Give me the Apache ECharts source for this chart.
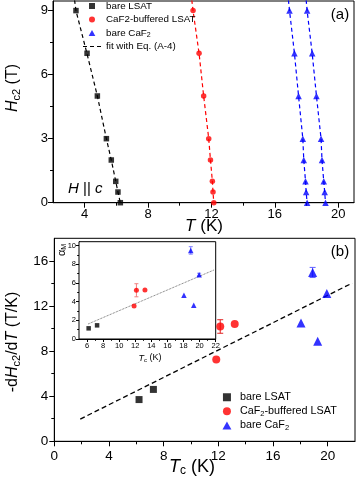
<!DOCTYPE html>
<html>
<head>
<meta charset="utf-8">
<script src="https://cdn.jsdelivr.net/npm/echarts@6.0.0/dist/echarts.min.js"></script>
<style>
  html, body { margin: 0; padding: 0; background: #fff; }
  #chart { width: 357px; height: 477px; }
</style>
</head>
<body>
<div id="chart"></div>
<script>
// ---- panel (a): Hc2 vs T ----
const hLevels = [9, 7, 5, 3, 2, 1, 0.5, 0]
const tLSAT = [3.45, 4.15, 4.8, 5.37, 5.68, 5.96, 6.1, 6.25]
const tBuf = [10.84, 11.22, 11.51, 11.83, 11.94, 12.06, 12.1, 12.15]
const tCaF2a = [16.93, 17.24, 17.5, 17.77, 17.83, 17.94, 17.98, 18.04]
const tCaF2b = [18.04, 18.36, 18.63, 18.92, 18.98, 19.09, 19.15, 19.2]
// fit with Eq. (A-4)
const fitH = [9.5, 9, 7, 5, 3, 2, 1, 0.5, 0]
const fitLSAT = [3.36, 3.45, 4.14, 4.8, 5.37, 5.68, 5.96, 6.1, 6.25]
const fitBuf = [10.76, 10.84, 11.22, 11.51, 11.83, 11.94, 12.06, 12.1, 12.15]
const fitCaF2a = [16.86, 16.93, 17.24, 17.5, 17.77, 17.83, 17.94, 17.98, 18.04]
const fitCaF2b = [17.98, 18.04, 18.36, 18.63, 18.92, 18.98, 19.09, 19.15, 19.2]

// ---- panel (b): -dHc2/dT vs Tc ----
const tcLSAT = [6.2, 7.25]
const slopeLSAT = [3.7, 4.6]
const tcBuf = [11.85, 12.14, 13.2]
const slopeBuf = [7.26, 10.18, 10.4]
const errBuf = [0, 0.6, 0]
const tcCaF2 = [18.05, 18.9, 19.27, 19.94]
const slopeCaF2 = [10.5, 14.97, 8.88, 13.1]
const errCaF2 = [0, 0.45, 0, 0]
const lineTc = [1.9, 21.8]
const lineSlope = [1.97, 14.03]

// ---- inset: alpha_M vs Tc ----
const alphaLSAT = [1.14, 1.46]
const alphaBuf = [3.54, 5.21, 5.24]
const alphaErrBuf = [0, 0.7, 0]
const alphaCaF2 = [4.68, 9.47, 3.6, 6.88]
const alphaErrCaF2 = [0, 0.4, 0, 0.15]
const insetLineTc = [6.12, 21.85]
const insetLineAlpha = [1.6, 7.4]

// tick labels
const ticksAx = [4, 8, 12, 16, 20], minorAx = [6, 10, 14, 18]
const ticksAy = [0, 3, 6, 9], minorAy = [1.5, 4.5, 7.5]
const ticksBx = [0, 4, 8, 12, 16, 20], minorBx = [2, 6, 10, 14, 18]
const ticksBy = [0, 4, 8, 12, 16], minorBy = [2, 6, 10, 14]
const ticksIx = [6, 8, 10, 12, 14, 16, 18, 20, 22], minorIx = [7, 9, 11, 13, 15, 17, 19, 21]
const ticksIy = [0, 2, 4, 6, 8, 10], minorIy = [1, 3, 5, 7, 9]

const FONT = 'Liberation Sans'
const BLACK = '#000', RED = '#ff0000', BLUE = '#0000ff'
// legend icons (paths keep their aspect ratio)
const ICON_SQUARE = 'path://M0,0L10,0L10,10L0,10Z'
const ICON_TRI = 'path://M5,0L10,9L0,9Z'
const ICON_DASH = 'path://M0,0H4V1H0Z M7,0H11V1H7Z M14,0H18V1H14Z'

function zip(xs, ys) {
	return xs.map((x, i) => [x, ys[i]])
}

// main axis + a second overlapping axis that only draws the short minor ticks
function axisPair(pos, grid, min, max, major, minor, fs, margin, len) {
	const main = {
		type: 'value', gridIndex: grid, position: pos, min: min, max: max,
		axisLine: { show: true, onZero: false, lineStyle: { color: BLACK, width: 1 } },
		axisTick: { show: true, length: len, customValues: major, lineStyle: { color: BLACK } },
		axisLabel: { customValues: major, fontSize: fs, margin: margin, color: BLACK, fontFamily: FONT },
		splitLine: { show: false }
	}
	const sub = {
		type: 'value', gridIndex: grid, position: pos, min: min, max: max,
		axisLine: { show: false, onZero: false },
		axisTick: { show: true, length: len * 0.6, customValues: minor, lineStyle: { color: BLACK } },
		axisLabel: { show: false },
		splitLine: { show: false }
	}
	return [main, sub]
}

function scatter(name, xi, data, symbol, size, color) {
	return {
		name: name, type: 'scatter', xAxisIndex: xi, yAxisIndex: xi,
		data: data, symbol: symbol, symbolSize: size,
		itemStyle: { color: color }, z: 4
	}
}

function dashed(name, xi, data, color, width, dash) {
	return {
		name: name, type: 'line', xAxisIndex: xi, yAxisIndex: xi,
		data: data, symbol: 'none', clip: true, silent: true,
		lineStyle: { color: color, width: width, type: dash },
		itemStyle: { color: color }, z: 3
	}
}

function errBars(xi, xs, ys, es, color, cap) {
	return {
		type: 'custom', xAxisIndex: xi, yAxisIndex: xi, z: 3, silent: true,
		encode: { x: 0, y: 1 },
		data: xs.map((x, i) => [x, ys[i], es[i]]).filter(d => d[2] > 0),
		renderItem: function (params, api) {
			const x = api.value(0), y = api.value(1), e = api.value(2)
			const p1 = api.coord([x, y + e])
			const p2 = api.coord([x, y - e])
			const st = { stroke: color, lineWidth: 1 }
			return {
				type: 'group',
				children: [
					{ type: 'line', shape: { x1: p1[0], y1: p1[1], x2: p2[0], y2: p2[1] }, style: st },
					{ type: 'line', shape: { x1: p1[0] - cap, y1: p1[1], x2: p1[0] + cap, y2: p1[1] }, style: st },
					{ type: 'line', shape: { x1: p2[0] - cap, y1: p2[1], x2: p2[0] + cap, y2: p2[1] }, style: st }
				]
			}
		}
	}
}

function label(x, y, text, fs, rot) {
	const rich = {
		i: { fontSize: fs, fontStyle: 'italic', fontFamily: FONT, fill: BLACK },
		s: { fontSize: Math.round(fs * 0.68), fontFamily: FONT, fill: BLACK, padding: [Math.round(fs * 0.45), 0, 0, 0] }
	}
	return {
		type: 'text', x: x, y: y, rotation: rot || 0,
		style: {
			text: text, fontSize: fs, fontFamily: FONT, fill: BLACK,
			align: 'center', verticalAlign: 'middle', rich: rich
		}
	}
}

const ax = axisPair('bottom', 0, 2, 21, ticksAx, minorAx, 13, 5, 5)
const ay = axisPair('left', 0, 0, 9.45, ticksAy, minorAy, 13, 5, 5)
const bx = axisPair('bottom', 1, 0, 22, ticksBx, minorBx, 13.5, 8, 5)
const by = axisPair('left', 1, 0, 18, ticksBy, minorBy, 13.5, 6, 5)
const ix = axisPair('bottom', 2, 5, 22, ticksIx, minorIx, 7.5, 3, 3)
const iy = axisPair('left', 2, 0, 10.4, ticksIy, minorIy, 7.5, 3, 3)

const topNames = {
	'bare LSAT': 'bare LSAT',
	'CaF2-buffered LSAT': 'CaF2-buffered LSAT',
	'bare CaF2': 'bare CaF{s|2}',
	'fit with Eq. (A-4)': 'fit with Eq. (A-4)'
}
const botNames = {
	'bare LSAT': 'bare LSAT',
	'CaF2-buffered LSAT': 'CaF{s|2}-buffered LSAT',
	'bare CaF2': 'bare CaF{s|2}'
}

const option = {
	backgroundColor: '#fff',
	animation: false,
	grid: [
		{ left: 53, top: 1, width: 301, height: 201.7, show: true, borderColor: BLACK, borderWidth: 1, containLabel: false, outerBoundsMode: 'none' },
		{ left: 54.3, top: 238.3, width: 300.7, height: 203, show: true, borderColor: BLACK, borderWidth: 1, containLabel: false, outerBoundsMode: 'none' },
		{ left: 79, top: 241.7, width: 136.7, height: 97.3, show: true, borderColor: BLACK, borderWidth: 1, backgroundColor: '#fff', containLabel: false, outerBoundsMode: 'none', z: 2 }
	],
	xAxis: [ax[0], ax[1], bx[0], bx[1], ix[0], ix[1]],
	yAxis: [ay[0], ay[1], by[0], by[1], iy[0], iy[1]],
	legend: [
		{
			orient: 'vertical', left: 83, top: 0, itemGap: 1.5, padding: 0,
			itemWidth: 18, itemHeight: 6, symbolKeepAspect: true,
			data: [
				{ name: 'bare LSAT', icon: ICON_SQUARE },
				{ name: 'CaF2-buffered LSAT', icon: 'circle' },
				{ name: 'bare CaF2', icon: ICON_TRI },
				{ name: 'fit with Eq. (A-4)', icon: ICON_DASH }
			],
			formatter: n => topNames[n],
			textStyle: {
				fontSize: 9.8, fontFamily: FONT, color: BLACK, lineHeight: 12,
				rich: { s: { fontSize: 7, fontFamily: FONT, color: BLACK, padding: [5, 0, 0, 0] } }
			}
		},
		{
			orient: 'vertical', left: 222.5, top: 391, itemGap: 1.5, padding: 0,
			itemWidth: 16, itemHeight: 8, symbolKeepAspect: true,
			data: [
				{ name: 'bare LSAT', icon: ICON_SQUARE },
				{ name: 'CaF2-buffered LSAT', icon: 'circle' },
				{ name: 'bare CaF2', icon: ICON_TRI }
			],
			formatter: n => botNames[n],
			textStyle: {
				fontSize: 10.8, fontFamily: FONT, color: BLACK, lineHeight: 12.5,
				rich: { s: { fontSize: 7.5, fontFamily: FONT, color: BLACK, padding: [5, 0, 0, 0] } }
			}
		}
	],
	graphic: [
		label(13, 88, '{i|H}{s|c2} (T)', 16, Math.PI / 2),
		label(204, 226, '{i|T} (K)', 17),
		label(340, 15, '(a)', 15),
		{
			type: 'text', x: 68, y: 189,
			style: {
				text: '{i|H} || {i|c}', fontSize: 15, fontFamily: FONT, fill: BLACK,
				verticalAlign: 'middle',
				rich: { i: { fontSize: 15, fontStyle: 'italic', fontFamily: FONT, fill: BLACK } }
			}
		},
		label(13, 342, '-d{i|H}{s|c2}/d{i|T} (T/K)', 16, Math.PI / 2),
		label(192, 467, '{i|T}{s|c} (K)', 18),
		label(340, 252, '(b)', 15),
		label(62, 250, '\u03b1{s|M}', 11, Math.PI / 2),
		label(150, 358, '{i|T}{s|c} (K)', 9)
	],
	series: [
		// (a)
		dashed('fit with Eq. (A-4)', 0, zip(fitLSAT, fitH), BLACK, 1.2, [4, 3]),
		dashed('fit buffered', 0, zip(fitBuf, fitH), RED, 1.2, [4, 3]),
		dashed('fit CaF2 a', 0, zip(fitCaF2a, fitH), BLUE, 1.2, [4, 3]),
		dashed('fit CaF2 b', 0, zip(fitCaF2b, fitH), BLUE, 1.2, [4, 3]),
		scatter('bare LSAT', 0, zip(tLSAT, hLevels), 'rect', 5.5, BLACK),
		scatter('CaF2-buffered LSAT', 0, zip(tBuf, hLevels), 'circle', 5.5, RED),
		scatter('bare CaF2', 0, zip(tCaF2a, hLevels), 'triangle', 6.5, BLUE),
		scatter('bare CaF2', 0, zip(tCaF2b, hLevels), 'triangle', 6.5, BLUE),
		// (b)
		dashed('linear b', 2, zip(lineTc, lineSlope), BLACK, 1.3, [5, 3]),
		errBars(2, tcBuf, slopeBuf, errBuf, '#e02020', 3),
		errBars(2, tcCaF2, slopeCaF2, errCaF2, '#6060ff', 3),
		scatter('bare LSAT', 2, zip(tcLSAT, slopeLSAT), 'rect', 7, BLACK),
		scatter('CaF2-buffered LSAT', 2, zip(tcBuf, slopeBuf), 'circle', 8, RED),
		scatter('bare CaF2', 2, zip(tcCaF2, slopeCaF2), 'triangle', 9, BLUE),
		// inset
		dashed('linear inset', 4, zip(insetLineTc, insetLineAlpha), '#444', 0.8, 'dotted'),
		errBars(4, tcBuf, alphaBuf, alphaErrBuf, '#f08080', 2),
		errBars(4, tcCaF2, alphaCaF2, alphaErrCaF2, '#8080ff', 2),
		scatter('inset LSAT', 4, zip(tcLSAT, alphaLSAT), 'rect', 4.5, BLACK),
		scatter('inset buffered', 4, zip(tcBuf, alphaBuf), 'circle', 5, RED),
		scatter('inset CaF2', 4, zip(tcCaF2, alphaCaF2), 'triangle', 5.5, BLUE)
	]
}

const chart = echarts.init(document.getElementById('chart'), null, { renderer: 'canvas' })
chart.setOption(option)
</script>
</body>
</html>
